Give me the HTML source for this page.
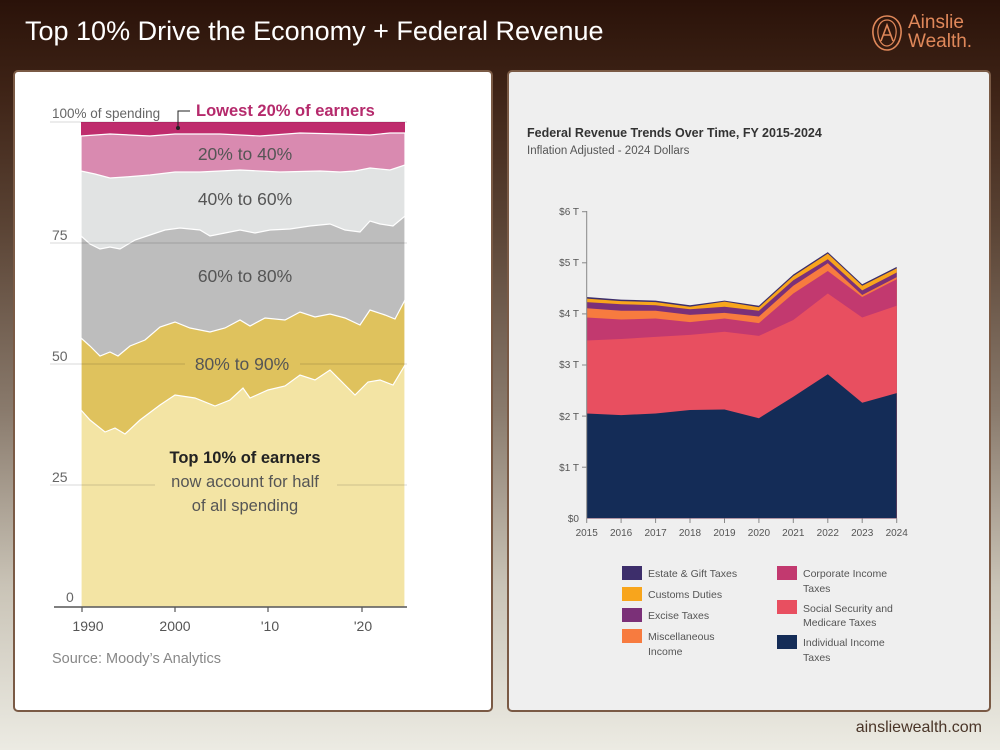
<!DOCTYPE html>
<html><head><meta charset="utf-8">
<style>
html,body{margin:0;padding:0;}
body{width:1000px;height:750px;position:relative;overflow:hidden;
background:linear-gradient(180deg,#2a1209 0%,#3e2316 12%,#5a4334 30%,#8a7b6d 55%,#c9c3b6 78%,#ecebe3 100%);
font-family:"Liberation Sans",sans-serif;}
.title{position:absolute;left:25px;top:16px;color:#fff;font-size:27px;}
.card{position:absolute;top:70px;height:642px;border:2px solid #7a5a45;border-radius:5px;box-sizing:border-box;}
.foot{position:absolute;right:18px;top:719px;font-size:16px;color:#4a3528;}
.logo{position:absolute;left:870px;top:13px;color:#e0885a;font-size:19px;line-height:19px;}
</style></head><body>
<div class="title">Top 10% Drive the Economy + Federal Revenue</div>
<div class="logo">
<svg width="34" height="38" style="position:absolute;left:0;top:1px" viewBox="0 0 34 38"><path d="M17 2 C8 2 2 10 3 20 C4 30 10 36 17 36 C24 36 30 30 31 20 C32 10 26 2 17 2 Z" fill="none" stroke="#e0885a" stroke-width="1.6"/><path d="M17 6 C11 6 7 12 8 20 C9 28 13 32 17 32 C21 32 25 28 26 20 C27 12 23 6 17 6 Z" fill="none" stroke="#e0885a" stroke-width="1.2"/><path d="M11 27 L17 11 L23 27 M13 21 L21 21" fill="none" stroke="#e0885a" stroke-width="1.6"/></svg>
<div style="position:absolute;left:38px;top:0">Ainslie</div>
<div style="position:absolute;left:38px;top:19px">Wealth.</div>
</div>

<div class="card" style="left:13px;width:480px;background:#fff;"></div>
<div class="card" style="left:507px;width:484px;background:#efefef;"></div>

<svg width="1000" height="750" style="position:absolute;left:0;top:0" font-family="Liberation Sans, sans-serif">
<!-- LEFT CHART -->
<rect x="81" y="122" width="324" height="485" fill="#bf2c6d"/>
<polygon fill="#d98ab0" stroke="#fff" stroke-width="1.2" points="81,136 110,134 150,136 175,134 220,134 260,136 300,133 340,134 370,135 390,133 405,133 405,607 81,607"/>
<polygon fill="#e1e3e3" stroke="#fff" stroke-width="1.2" points="81,171 95,174 110,178 125,177 150,175 175,172 200,172 240,170 280,172 320,171 340,172 355,171 370,168 390,170 405,165 405,607 81,607"/>
<polygon fill="#bdbdbd" stroke="#fff" stroke-width="1.2" points="81,236 90,244 100,249 110,247 120,249 135,240 150,235 165,230 180,228 200,230 210,236 225,233 240,230 255,233 270,230 290,229 310,226 330,224 345,230 360,232 370,221 380,224 393,226 405,216 405,607 81,607"/>
<polygon fill="#dfc25d" stroke="#fff" stroke-width="1.2" points="81,338 90,346 100,356 110,352 118,356 130,346 145,340 160,327 175,322 190,328 210,332 225,328 240,320 250,326 265,318 285,320 300,312 315,317 330,314 345,318 360,325 370,310 385,315 395,319 405,300 405,607 81,607"/>
<polygon fill="#f3e4a4" stroke="#fff" stroke-width="1.2" points="81,410 90,420 105,432 115,428 125,434 140,420 160,405 175,395 195,398 215,406 230,400 243,388 250,398 268,390 285,386 300,375 315,380 330,370 345,385 355,395 368,382 380,380 393,385 405,365 405,607 81,607"/>
<g stroke="#000" stroke-opacity="0.12" stroke-width="1.2">
<line x1="50" y1="122" x2="407" y2="122"/>
<line x1="50" y1="243" x2="407" y2="243"/>
<line x1="50" y1="364" x2="185" y2="364"/><line x1="300" y1="364" x2="407" y2="364"/>
<line x1="50" y1="485" x2="155" y2="485"/><line x1="337" y1="485" x2="407" y2="485"/>
</g>
<line x1="54" y1="607" x2="407" y2="607" stroke="#555" stroke-width="1.5"/>
<g stroke="#555" stroke-width="1.2"><line x1="82" y1="607" x2="82" y2="612"/><line x1="175" y1="607" x2="175" y2="612"/><line x1="268" y1="607" x2="268" y2="612"/><line x1="362" y1="607" x2="362" y2="612"/></g>
<g fill="#666" font-size="14">
<text x="52" y="118" font-size="13.5">100% of spending</text>
<text x="52" y="240">75</text><text x="52" y="361">50</text><text x="52" y="482">25</text><text x="66" y="602">0</text>
</g>
<g fill="#555" font-size="14" text-anchor="middle">
<text x="88" y="631">1990</text><text x="175" y="631">2000</text><text x="270" y="631">'10</text><text x="363" y="631">'20</text>
</g>
<text x="52" y="663" fill="#888" font-size="14.5">Source: Moody’s Analytics</text>
<path d="M190 111 L178 111 L178 127" fill="none" stroke="#222" stroke-width="1"/>
<circle cx="178" cy="128" r="2" fill="#222"/>
<text x="196" y="116" fill="#b52a6c" font-size="16.5" font-weight="bold">Lowest 20% of earners</text>
<g fill="#555" font-size="17.5" text-anchor="middle">
<text x="245" y="160">20% to 40%</text>
<text x="245" y="205">40% to 60%</text>
<text x="245" y="282">60% to 80%</text>
<text x="242" y="370">80% to 90%</text>
<text x="245" y="463" font-weight="bold" fill="#222" font-size="16.5">Top 10% of earners</text>
<text x="245" y="487" font-size="16.5">now account for half</text>
<text x="245" y="511" font-size="16.5">of all spending</text>
</g>

<!-- RIGHT CHART -->
<text x="527" y="137" fill="#333" font-size="12.5" font-weight="bold">Federal Revenue Trends Over Time, FY 2015-2024</text>
<text x="527" y="154" fill="#555" font-size="11.5">Inflation Adjusted - 2024 Dollars</text>
<polygon fill="#3d2e6b" points="586.7,297.0 621.1,299.6 655.6,300.6 690.0,305.2 724.5,300.6 758.9,305.7 793.3,274.5 827.8,252.1 862.2,284.3 896.7,266.9 896.7,518.3 586.7,518.3"/>
<polygon fill="#f8a51c" points="586.7,298.6 621.1,301.1 655.6,302.1 690.0,306.7 724.5,301.6 758.9,307.3 793.3,276.1 827.8,253.6 862.2,285.8 896.7,268.4 896.7,518.3 586.7,518.3"/>
<polygon fill="#7b3078" points="586.7,302.1 621.1,304.2 655.6,305.2 690.0,309.3 724.5,306.7 758.9,310.8 793.3,280.2 827.8,259.2 862.2,290.4 896.7,272.5 896.7,518.3 586.7,518.3"/>
<polygon fill="#f77b3f" points="586.7,308.3 621.1,310.8 655.6,310.8 690.0,314.9 724.5,312.9 758.9,316.5 793.3,285.8 827.8,263.3 862.2,295.0 896.7,277.1 896.7,518.3 586.7,518.3"/>
<polygon fill="#c2396f" points="586.7,317.5 621.1,319.5 655.6,318.5 690.0,322.1 724.5,318.5 758.9,323.1 793.3,293.5 827.8,271.0 862.2,297.0 896.7,279.2 896.7,518.3 586.7,518.3"/>
<polygon fill="#e84f60" points="586.7,340.5 621.1,339.0 655.6,336.9 690.0,334.9 724.5,331.8 758.9,335.9 793.3,320.0 827.8,293.5 862.2,317.5 896.7,305.7 896.7,518.3 586.7,518.3"/>
<polygon fill="#142c57" points="586.7,413.5 621.1,415.1 655.6,413.5 690.0,410.0 724.5,409.5 758.9,418.2 793.3,396.7 827.8,374.2 862.2,402.8 896.7,393.1 896.7,518.3 586.7,518.3"/>
<line x1="586.7" y1="211" x2="586.7" y2="518.3" stroke="#888" stroke-width="1"/>
<g stroke="#888" stroke-width="1">
<line x1="582" y1="211.7" x2="586.7" y2="211.7"/><line x1="582" y1="262.8" x2="586.7" y2="262.8"/><line x1="582" y1="313.9" x2="586.7" y2="313.9"/><line x1="582" y1="365" x2="586.7" y2="365"/><line x1="582" y1="416.1" x2="586.7" y2="416.1"/><line x1="582" y1="467.2" x2="586.7" y2="467.2"/>
<line x1="586.7" y1="518.3" x2="586.7" y2="523"/><line x1="621.1" y1="518.3" x2="621.1" y2="523"/><line x1="655.6" y1="518.3" x2="655.6" y2="523"/><line x1="690" y1="518.3" x2="690" y2="523"/><line x1="724.5" y1="518.3" x2="724.5" y2="523"/><line x1="758.9" y1="518.3" x2="758.9" y2="523"/><line x1="793.3" y1="518.3" x2="793.3" y2="523"/><line x1="827.8" y1="518.3" x2="827.8" y2="523"/><line x1="862.2" y1="518.3" x2="862.2" y2="523"/><line x1="896.7" y1="518.3" x2="896.7" y2="523"/>
</g>
<g fill="#555" font-size="10" text-anchor="end">
<text x="579" y="215">$6 T</text><text x="579" y="266">$5 T</text><text x="579" y="317">$4 T</text><text x="579" y="368">$3 T</text><text x="579" y="420">$2 T</text><text x="579" y="471">$1 T</text><text x="579" y="522">$0</text>
</g>
<g fill="#555" font-size="10" text-anchor="middle">
<text x="586.7" y="536">2015</text><text x="621.1" y="536">2016</text><text x="655.6" y="536">2017</text><text x="690" y="536">2018</text><text x="724.5" y="536">2019</text><text x="758.9" y="536">2020</text><text x="793.3" y="536">2021</text><text x="827.8" y="536">2022</text><text x="862.2" y="536">2023</text><text x="896.7" y="536">2024</text>
</g>
<rect x="622" y="566" width="20" height="14" fill="#3d2e6b"/>
<rect x="622" y="587" width="20" height="14" fill="#f8a51c"/>
<rect x="622" y="608" width="20" height="14" fill="#7b3078"/>
<rect x="622" y="629" width="20" height="14" fill="#f77b3f"/>
<rect x="777" y="566" width="20" height="14" fill="#c2396f"/>
<rect x="777" y="600" width="20" height="14" fill="#e84f60"/>
<rect x="777" y="635" width="20" height="14" fill="#142c57"/>
<g fill="#555" font-size="10.5">
<text x="648" y="577">Estate &amp; Gift Taxes</text>
<text x="648" y="598">Customs Duties</text>
<text x="648" y="619">Excise Taxes</text>
<text x="648" y="640">Miscellaneous</text><text x="648" y="655">Income</text>
<text x="803" y="577">Corporate Income</text><text x="803" y="592">Taxes</text>
<text x="803" y="612">Social Security and</text><text x="803" y="626">Medicare Taxes</text>
<text x="803" y="646">Individual Income</text><text x="803" y="661">Taxes</text>
</g>
</svg>
<div class="foot">ainsliewealth.com</div>
</body></html>
